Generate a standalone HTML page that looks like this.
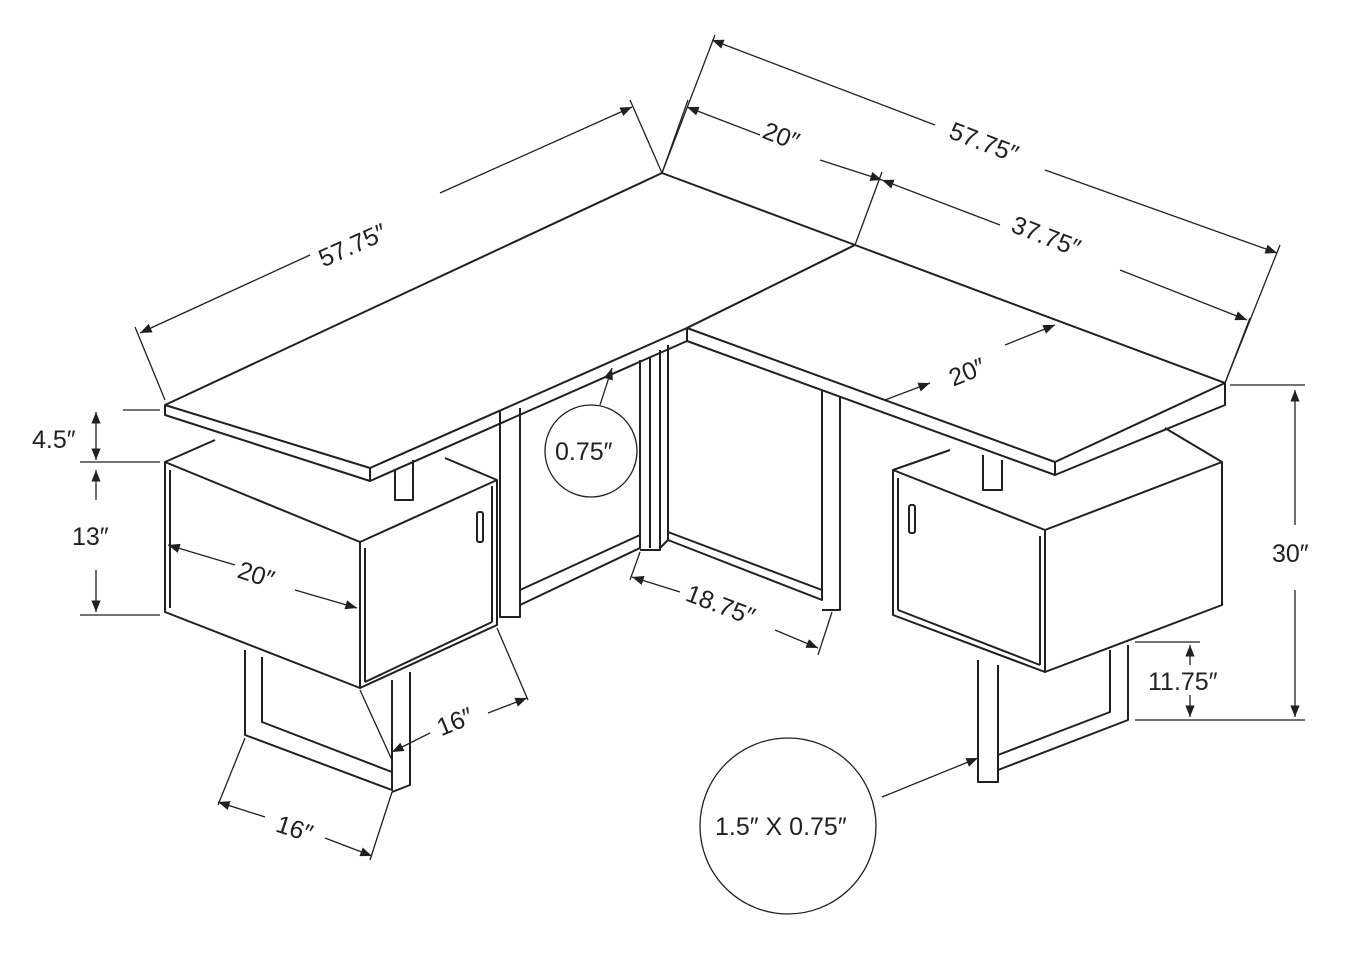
<!DOCTYPE html>
<html><head><meta charset="utf-8"><style>
html,body{margin:0;padding:0;background:#fff;width:1348px;height:956px;overflow:hidden}
svg text{font-family:"Liberation Sans",sans-serif;font-size:25px;fill:#231f20}
</style></head><body>
<svg width="1348" height="956" viewBox="0 0 1348 956" xmlns="http://www.w3.org/2000/svg">
<defs><marker id="a" viewBox="0 0 10 10" refX="10" refY="5" markerWidth="9" markerHeight="9" orient="auto-start-reverse"><path d="M0,1 L10,5 L0,9 z" fill="#231f20"/></marker></defs>
<g fill="none" stroke="#231f20" stroke-width="2" stroke-linejoin="round">
<!-- desk top -->
<polygon points="165,405 662,173 855,245 687,328 370,468" fill="#fff"/>
<polygon points="855,245 1225,383 1055,462 687,328" fill="#fff"/>
<polyline points="165,405 165,415 370,481 370,468"/>
<polyline points="370,481 687,341 687,328"/>
<polyline points="687,341 1055,475 1225,405 1225,383"/>
<line x1="1055" y1="462" x2="1055" y2="475"/>
<!-- middle legs/panels -->
<polyline points="500,410 500,617 520,617 520,408"/>
<polyline points="520,605 640,548 640,360"/>
<polyline points="660,350 660,550 640,550"/>
<polyline points="668,345 668,540 822,600 822,390"/>
<polyline points="822,610 840,610 840,396"/>
<line x1="660" y1="548" x2="668" y2="540"/>
<line x1="520" y1="590" x2="640" y2="535"/>
<line x1="668" y1="532" x2="822" y2="590"/>
<line x1="650" y1="358" x2="650" y2="548"/>
<!-- support blocks -->
<polyline points="395,470 395,500 413,500 413,460"/>
<polyline points="983,455 983,490 1002,490 1002,460"/>
<!-- left cabinet -->
<polygon points="165,462 360,542 360,688 165,612" fill="#fff"/>
<polygon points="360,542 497,480 497,625 360,688" fill="#fff"/>
<polyline points="165,462 215,440"/><polyline points="445,458 497,480"/>
<line x1="170" y1="470" x2="170" y2="608"/>
<line x1="365" y1="548" x2="365" y2="682"/><line x1="365" y1="682" x2="492" y2="622"/><line x1="492" y1="486" x2="492" y2="622"/>
<rect x="477" y="512" width="6" height="30" rx="2"/>
<!-- right cabinet -->
<polygon points="893,470 1045,530 1045,672 893,615" fill="#fff"/>
<polygon points="1045,530 1222,462 1222,605 1045,672" fill="#fff"/>
<line x1="893" y1="470" x2="950" y2="450"/><line x1="1165" y1="428" x2="1222" y2="462"/>
<line x1="898" y1="478" x2="898" y2="610"/><line x1="898" y1="610" x2="1040" y2="665"/><line x1="1040" y1="536" x2="1040" y2="665"/>
<rect x="909" y="505" width="6" height="28" rx="2"/>
<!-- left leg -->
<polyline points="245,650 245,735 392,790 392,680"/>
<polyline points="262,657 262,722 392,772"/>
<polyline points="392,792 410,785 410,672"/>
<!-- right leg -->
<polyline points="978,660 978,782 998,782 998,665"/>
<polyline points="998,770 1128,720 1128,645"/>
<polyline points="998,755 1110,712 1110,650"/>
<!-- extension lines -->
<g stroke-width="1.3">
<line x1="662" y1="173" x2="630" y2="100"/><line x1="165" y1="400" x2="135" y2="327"/>
<line x1="662" y1="173" x2="715" y2="35"/><line x1="1225" y1="383" x2="1280" y2="245"/>
<line x1="855" y1="245" x2="882" y2="172"/><line x1="662" y1="173" x2="688" y2="100"/>
<line x1="1225" y1="383" x2="1250" y2="318"/>
<line x1="123" y1="410" x2="160" y2="410"/><line x1="80" y1="462" x2="160" y2="462"/><line x1="80" y1="615" x2="160" y2="615"/>
<line x1="1230" y1="385" x2="1305" y2="385"/><line x1="1135" y1="720" x2="1305" y2="720"/><line x1="1135" y1="642" x2="1200" y2="642"/>
<line x1="497" y1="628" x2="528" y2="700"/><line x1="360" y1="690" x2="392" y2="760"/>
<line x1="245" y1="738" x2="218" y2="805"/><line x1="392" y1="792" x2="370" y2="860"/>
<line x1="640" y1="552" x2="630" y2="580"/><line x1="832" y1="612" x2="818" y2="655"/>
<!-- dimension lines -->
<line x1="140" y1="333" x2="310" y2="255" marker-start="url(#a)"/><line x1="440" y1="193" x2="632" y2="107" marker-end="url(#a)"/>
<line x1="712" y1="40" x2="935" y2="125" marker-start="url(#a)"/><line x1="1045" y1="170" x2="1277" y2="253" marker-end="url(#a)"/>
<line x1="687" y1="107" x2="760" y2="135" marker-start="url(#a)"/><line x1="820" y1="160" x2="882" y2="180" marker-end="url(#a)"/>
<line x1="882" y1="180" x2="1000" y2="225" marker-start="url(#a)"/><line x1="1120" y1="270" x2="1247" y2="320" marker-end="url(#a)"/>
<line x1="885" y1="400" x2="930" y2="383" marker-end="url(#a)" transform="rotate(0)"/><line x1="1005" y1="345" x2="1055" y2="325" marker-end="url(#a)"/>
<line x1="96" y1="412" x2="96" y2="460" marker-start="url(#a)" marker-end="url(#a)"/>
<line x1="96" y1="470" x2="96" y2="500" marker-start="url(#a)"/><line x1="96" y1="570" x2="96" y2="612" marker-end="url(#a)"/>
<line x1="1295" y1="390" x2="1295" y2="525" marker-start="url(#a)"/><line x1="1295" y1="590" x2="1295" y2="717" marker-end="url(#a)"/>
<line x1="1190" y1="645" x2="1190" y2="665" marker-start="url(#a)"/><line x1="1190" y1="695" x2="1190" y2="717" marker-end="url(#a)"/>
<line x1="168" y1="545" x2="235" y2="565" marker-start="url(#a)"/><line x1="295" y1="590" x2="357" y2="608" marker-end="url(#a)"/>
<line x1="527" y1="698" x2="488" y2="713" marker-start="url(#a)"/><line x1="430" y1="733" x2="392" y2="752" marker-end="url(#a)"/>
<line x1="218" y1="802" x2="265" y2="817" marker-start="url(#a)"/><line x1="325" y1="838" x2="372" y2="856" marker-end="url(#a)"/>
<line x1="632" y1="577" x2="680" y2="592" marker-start="url(#a)"/><line x1="775" y1="630" x2="818" y2="648" marker-end="url(#a)"/>
<line x1="600" y1="405" x2="612" y2="368" marker-end="url(#a)"/>
<line x1="882" y1="797" x2="978" y2="758" marker-end="url(#a)"/>
</g>
<circle cx="591" cy="451" r="46" stroke-width="1.3"/>
<circle cx="788" cy="826" r="88" stroke-width="1.3"/>
</g>
<text x="315" y="248" transform="rotate(-24 365 238)">57.75″</text>
<text x="948" y="155" transform="rotate(21 995 145)">57.75″</text>
<text x="762" y="148" transform="rotate(21 790 140)">20″</text>
<text x="1010" y="250" transform="rotate(21 1060 240)">37.75″</text>
<text x="948" y="380" transform="rotate(-22 968 370)">20″</text>
<text x="32" y="448">4.5″</text>
<text x="72" y="545">13″</text>
<text x="238" y="585" transform="rotate(18 262 575)">20″</text>
<text x="436" y="730" transform="rotate(-22 455 720)">16″</text>
<text x="276" y="838" transform="rotate(18 297 830)">16″</text>
<text x="685" y="615" transform="rotate(21 725 605)">18.75″</text>
<text x="555" y="460">0.75″</text>
<text x="1272" y="562">30″</text>
<text x="1148" y="690">11.75″</text>
<text x="715" y="835">1.5″ X 0.75″</text>
</svg>
</body></html>
